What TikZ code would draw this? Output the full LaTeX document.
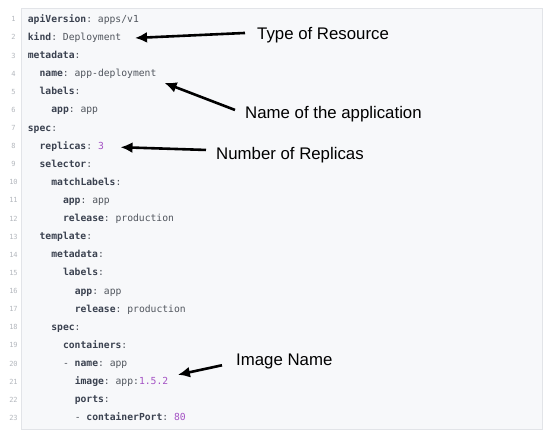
\documentclass[tikz,border=0pt]{standalone}
\usepackage{fontspec}
\setmainfont{Liberation Sans}
\newfontfamily\codefont{DejaVu Sans Mono}
\usetikzlibrary{arrows.meta, positioning}
\usepackage{xcolor}
\definecolor{codebg}{HTML}{F7F8FA}
\definecolor{codeframe}{HTML}{E2E4E8}
\definecolor{keyfg}{HTML}{3B4250}
\definecolor{valfg}{HTML}{50555D}
\definecolor{numfg}{HTML}{A452C4}
\definecolor{lnfg}{HTML}{B4B8BE}
\newcommand{\ky}[1]{\textbf{\color{keyfg}#1}}
\newcommand{\nr}[1]{{\color{numfg}#1}}

\begin{document}
\begin{tikzpicture}[x=1pt, y=-1pt,
  codeline/.style={anchor=base west, inner sep=0pt, font=\codefont\fontsize{9.7}{11}\selectfont\frenchspacing, text=valfg},
  lineno/.style={anchor=base, inner sep=0pt, font=\codefont\fontsize{7}{8}\selectfont, text=lnfg},
  callout/.style={anchor=base west, inner sep=0pt, font=\fontsize{16.8}{19}\selectfont},
  pointer/.style={line width=2.6pt, -{Latex[length=12pt, width=11pt]}}
]

\useasboundingbox[fill=white] (0,0) rectangle (550,436);
\filldraw[fill=codebg, draw=codeframe, line width=0.8pt] (21,8) rectangle (542,429);

\foreach \n/\ind/\txt in {
  1/0/{\ky{apiVersion}: apps/v1},
  2/0/{\ky{kind}: Deployment},
  3/0/{\ky{metadata}:},
  4/1/{\ky{name}: app-deployment},
  5/1/{\ky{labels}:},
  6/2/{\ky{app}: app},
  7/0/{\ky{spec}:},
  8/1/{\ky{replicas}: \nr{3}},
  9/1/{\ky{selector}:},
  10/2/{\ky{matchLabels}:},
  11/3/{\ky{app}: app},
  12/3/{\ky{release}: production},
  13/1/{\ky{template}:},
  14/2/{\ky{metadata}:},
  15/3/{\ky{labels}:},
  16/4/{\ky{app}: app},
  17/4/{\ky{release}: production},
  18/2/{\ky{spec}:},
  19/3/{\ky{containers}:},
  20/3/{- \ky{name}: app},
  21/4/{\ky{image}: app:\nr{1.5.2}},
  22/4/{\ky{ports}:},
  23/4/{- \ky{containerPort}: \nr{80}}} {
    \node[lineno] (n\n) at (13.5, 21.8+\n*18.12-18.12) {\n};
    \node[codeline] (l\n) at (27.7+\ind*11.72, 22.3+\n*18.12-18.12) {\txt};
  }

\node[callout] (type) at (257,40) {Type of Resource};
\node[callout] (appname) at (245,118.3) {Name of the application};
\node[callout] (replicas) at (216,159.3) {Number of Replicas};
\node[callout] (image) at (236,365.7) {Image Name};

\draw[pointer] ([shift={(-12,-2.7)}]type.west) -- ([shift={(13.5,0.5)}]l2.east);
\draw[pointer] ([shift={(-10,-4)}]appname.west) -- ([shift={(8,9)}]l4.east);
\draw[pointer] ([shift={(-10,-5)}]replicas.west) -- ([shift={(16.5,1)}]l8.east);
\draw[pointer] ([shift={(-14,3.6)}]image.west) -- ([shift={(9.5,-7)}]l21.east);
\end{tikzpicture}
\end{document}
